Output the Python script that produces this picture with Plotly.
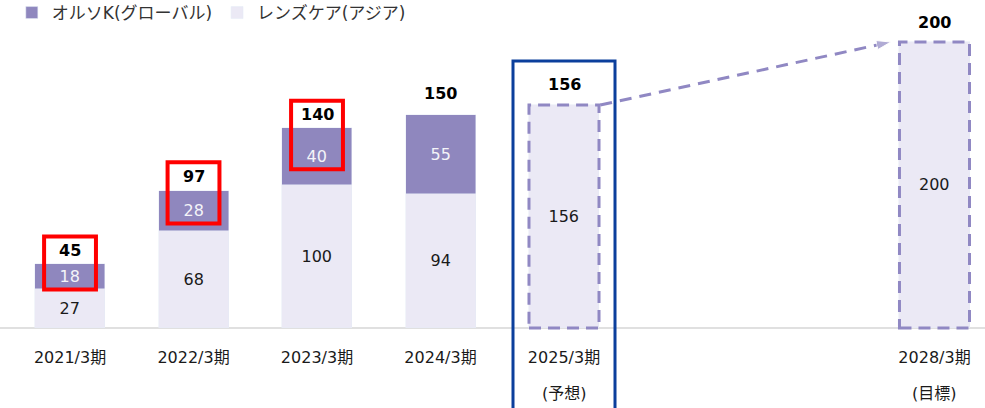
import plotly.graph_objects as go

# ---- data ----
years = [2021, 2022, 2023, 2024, 2025, 2028]
categories = ["2021/3期", "2022/3期", "2023/3期", "2024/3期", "2025/3期", "2028/3期"]
sublabels = ["", "", "", "", "(予想)", "(目標)"]
lens_care = [27, 68, 100, 94]          # レンズケア(アジア), actual years
orthok = [18, 28, 40, 55]              # オルソK(グローバル), actual years
totals = [45, 97, 140, 150, 156, 200]
plan_values = [156, 200]               # 2025 forecast, 2028 target
highlighted = ["2021/3期", "2022/3期", "2023/3期"]
forecast_cat = "2025/3期"

# ---- styling ----
PURPLE = "#8F87BE"
LIGHT = "#EBE9F5"
DASH = "#9088C3"
RED = "#FF0000"
BLUE = "#0B3F9C"
FONT = "DejaVu Sans, Noto Sans CJK JP, sans-serif"
W = 0.567

x = [y - years[0] for y in years]
n_act = len(lens_care)
x_act, x_plan = x[:n_act], x[n_act:]

XR = [-0.567, 7.409]
YR = [-2.8, 229.4]
PLOT_H = 332


def xp(v):
    return (v - XR[0]) / (XR[1] - XR[0])


def yp(v):
    return (v - YR[0]) / (YR[1] - YR[0])


fig = go.Figure()
fig.add_trace(go.Bar(
    x=x_act, y=lens_care, name="レンズケア(アジア)", marker_color=LIGHT,
    width=W, text=[str(v) for v in lens_care], textposition="inside",
    insidetextanchor="middle", constraintext="none",
    textfont=dict(size=16, color="#1a1a1a", family=FONT), legendrank=2,
    hoverinfo="skip"))
fig.add_trace(go.Bar(
    x=x_act, y=orthok, name="オルソK(グローバル)", marker_color=PURPLE,
    width=W, text=[str(v) for v in orthok], textposition="inside",
    insidetextanchor="middle", constraintext="none",
    textfont=dict(size=16, color="#F4F4F8", family=FONT), legendrank=1,
    hoverinfo="skip"))
fig.add_trace(go.Bar(
    x=x_plan, y=plan_values, name="plan", marker_color=LIGHT, showlegend=False,
    width=W, text=[str(v) for v in plan_values], textposition="inside",
    insidetextanchor="middle", constraintext="none",
    textfont=dict(size=16, color="#1a1a1a", family=FONT), hoverinfo="skip"))

# dashed arrow from forecast to target
fig.add_trace(go.Scatter(
    x=[x_plan[0] + W / 2 + 0.01, x_plan[1] - W / 2 - 0.07],
    y=[plan_values[0], plan_values[1]],
    mode="lines+markers", showlegend=False, hoverinfo="skip",
    line=dict(color=DASH, width=3, dash="12px,8px"),
    marker=dict(symbol="arrow", size=[0, 15], color=DASH, angleref="previous")))

shapes = []
# dashed outlines on plan bars
for xi, v in zip(x_plan, plan_values):
    shapes.append(dict(type="rect", xref="x", yref="y", x0=xi - W / 2, x1=xi + W / 2,
                       y0=0, y1=v, line=dict(color=DASH, width=3, dash="12px,7px"),
                       fillcolor="rgba(0,0,0,0)", layer="above"))
# red highlight boxes
for cat, xi, lc, ok, t in zip(categories, x_act, lens_care, orthok, totals):
    if cat in highlighted:
        shapes.append(dict(type="rect", xref="x", yref="y", x0=xi - 0.21, x1=xi + 0.21,
                           y0=lc + ok / 2 - 9, y1=t + 19,
                           line=dict(color=RED, width=4), layer="above"))
# blue box around forecast column
fi = categories.index(forecast_cat)
shapes.append(dict(type="rect", xref="paper", yref="paper",
                   x0=xp(x[fi] - 0.413), x1=xp(x[fi] + 0.413),
                   y0=-0.4, y1=yp(totals[fi]) + 44 / PLOT_H,
                   line=dict(color=BLUE, width=3), layer="above"))

annotations = []
for cat, xi, t in zip(categories, x, totals):
    annotations.append(dict(x=xi, y=t, xref="x", yref="y", text=f"<b>{t}</b>",
                            showarrow=False, yanchor="middle",
                            yshift=13 if cat in highlighted else 20,
                            font=dict(size=16, color="#000000", family=FONT)))
for xi, s in zip(x, sublabels):
    if s:
        annotations.append(dict(x=xi, y=-(393 - 332) / PLOT_H, xref="x", yref="paper",
                                text=s, showarrow=False, yanchor="middle",
                                font=dict(size=16, color="#1a1a1a", family=FONT)))

fig.update_layout(
    width=985, height=408, barmode="stack", bargap=0,
    margin=dict(l=0, r=0, t=0, b=408 - PLOT_H, autoexpand=False),
    paper_bgcolor="white", plot_bgcolor="white",
    font=dict(family=FONT, size=16, color="#1a1a1a"),
    xaxis=dict(range=XR, tickvals=x, ticktext=categories, showgrid=False,
               zeroline=False, showline=False, ticks="", ticklabelstandoff=14,
               tickfont=dict(size=16, color="#1a1a1a", family=FONT), fixedrange=True),
    yaxis=dict(range=YR, visible=True, showticklabels=False, showgrid=False,
               zeroline=True, zerolinecolor="#E0E0E0", zerolinewidth=2, fixedrange=True),
    legend=dict(orientation="h", x=0.012, y=1.015, xanchor="left", yanchor="top",
                traceorder="normal",
                font=dict(size=17, color="#333333", family=FONT),
                bgcolor="rgba(0,0,0,0)", itemwidth=30),
    shapes=shapes, annotations=annotations, showlegend=True,
)

fig.write_html("out.html", config={"displayModeBar": False},
               post_script="document.body.style.margin='0';document.body.style.overflow='hidden';")
